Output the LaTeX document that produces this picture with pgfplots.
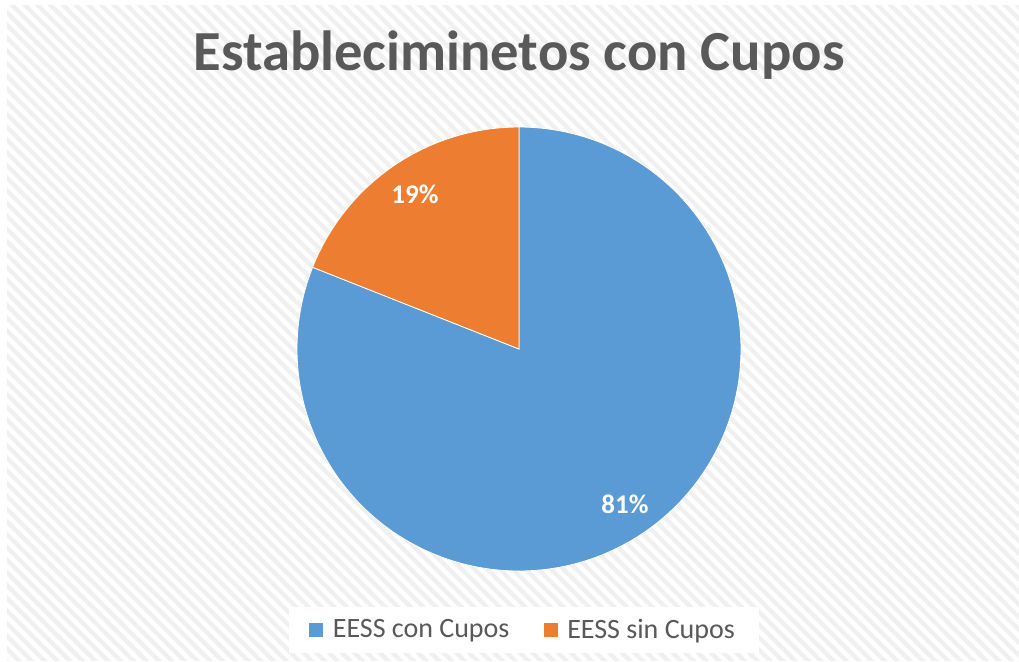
\documentclass[border=0pt]{standalone}
\usepackage{fontspec}
\setmainfont{Carlito}
\usepackage{pgfplots}
\pgfplotsset{compat=1.18}
\usetikzlibrary{patterns.meta}
\definecolor{cblue}{HTML}{5B9BD5}
\definecolor{corange}{HTML}{ED7D31}
\definecolor{ctext}{HTML}{595959}
\definecolor{cbg}{HTML}{F0F0F0}
\begin{document}
\begin{tikzpicture}
% values (percent)
\pgfmathsetmacro{\vA}{81}
\pgfmathsetmacro{\vB}{19}
\pgfmathsetmacro{\aStart}{90}
\pgfmathsetmacro{\aMid}{90+\vB*3.6}
\pgfmathsetmacro{\aEnd}{90+(\vA+\vB)*3.6}
\begin{axis}[
  scale only axis, width=509.5pt, height=330.5pt,
  xmin=0, xmax=1019, ymin=0, ymax=661, y dir=reverse,
  hide axis, clip=false, at={(0,0)}, anchor=south west,
  legend columns=2,
  legend style={at={(axis cs:524,630)}, anchor=center, draw=none, fill=white,
    font=\fontsize{14}{16}\selectfont, text=ctext,
    inner xsep=10pt, inner ysep=4pt,
    /tikz/every even column/.append style={column sep=15pt}},
  legend image code/.code={\path (0pt,0pt) -- (9.5pt,0pt);\fill[#1,draw=none] (0pt,-3.5pt) rectangle (7pt,3.5pt);},
]
\fill[white] (axis cs:0,0) rectangle (axis cs:1019,661);
\fill[cbg] (axis cs:7,5) rectangle (axis cs:1019,661);
\fill[pattern={Lines[angle=-45,distance=4.5pt,line width=2.2pt]}, pattern color=white] (axis cs:7,5) rectangle (axis cs:1019,661);
\addplot[fill=cblue, draw=white, line width=0.4pt, domain=\aMid:\aEnd, samples=200]
  ({519+222*cos(x)},{349-222*sin(x)}) -- (axis cs:519,349) -- cycle;
\addlegendentry{EESS con Cupos}
\addplot[fill=corange, draw=white, line width=0.4pt, domain=\aStart:\aMid, samples=60]
  ({519+222*cos(x)},{349-222*sin(x)}) -- (axis cs:519,349) -- cycle;
\addlegendentry{EESS sin Cupos}
\node[anchor=base, text=ctext, font=\fontsize{28.3}{32}\selectfont\bfseries] at (axis cs:519,70) {Estableciminetos con Cupos};
\node[anchor=base, text=white, font=\fontsize{13.5}{16}\selectfont\bfseries] at (axis cs:415,203) {19\%};
\node[anchor=base, text=white, font=\fontsize{13.5}{16}\selectfont\bfseries] at (axis cs:625,513) {81\%};
\end{axis}
\end{tikzpicture}
\end{document}
